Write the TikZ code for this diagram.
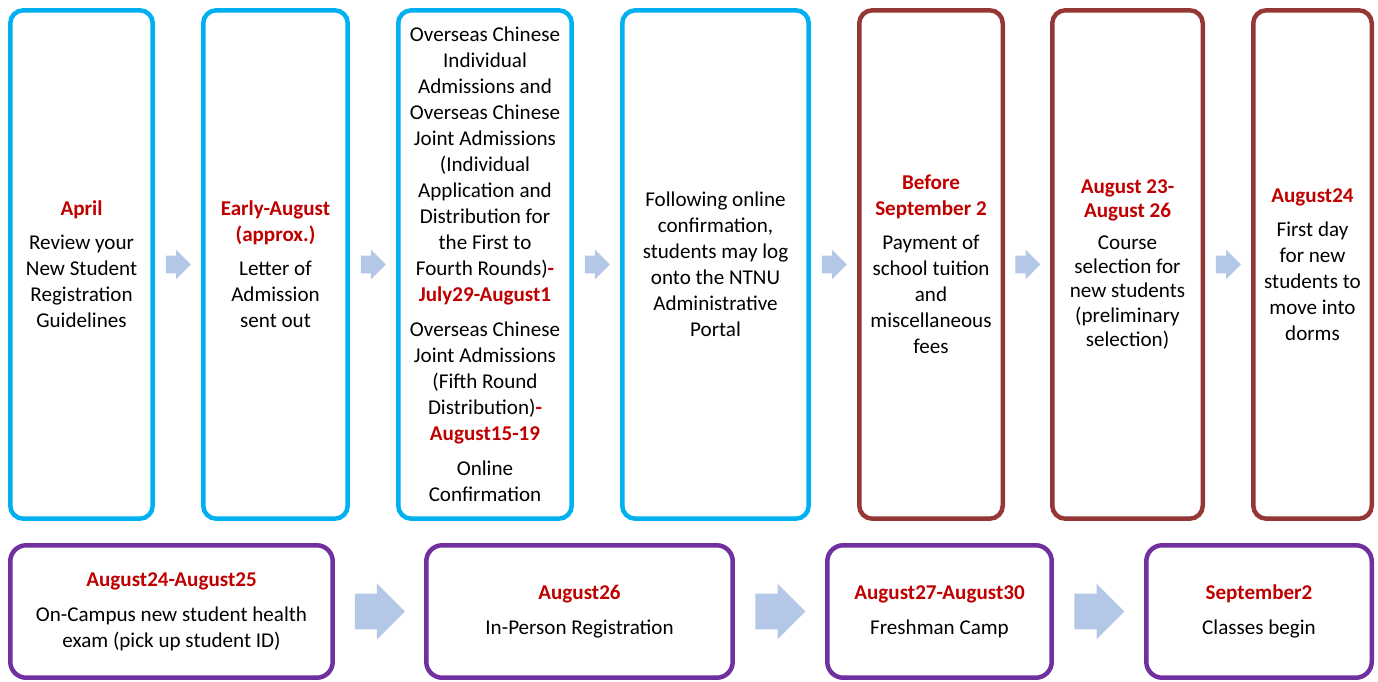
\documentclass[tikz,border=0pt]{standalone}
\usepackage{fontspec}
\setmainfont{Carlito}
\usetikzlibrary{shapes.arrows,calc}
\definecolor{skyblue}{RGB}{0,176,240}
\definecolor{brickred}{RGB}{149,55,53}
\definecolor{plum}{RGB}{112,48,160}
\definecolor{datered}{RGB}{192,0,0}
\definecolor{arrowblue}{RGB}{180,199,231}
\newcommand{\when}[1]{\textcolor{datered}{\bfseries #1}}
\begin{document}
\begin{tikzpicture}[x=0.02cm,y=-0.02cm,
	stage/.style={draw=#1, line width=0.09cm, fill=white, align=center, inner sep=0pt,
		font=\fontsize{12}{14.8}\selectfont},
	tall/.style={stage=#1, rounded corners=0.26cm, minimum height=10.17cm},
	wide/.style={stage=plum, rounded corners=0.32cm, minimum height=2.65cm},
	fwd/.style={single arrow, fill=arrowblue, draw=none, inner xsep=0pt, inner ysep=0.17cm,
		anchor=tail, minimum height=0.5cm, single arrow head extend=0.12cm},
	bigfwd/.style={fwd, inner ysep=0.35cm, minimum height=1cm, single arrow head extend=0.2cm}]
\useasboundingbox (0,0) rectangle (1378,682);

% top row
\node[tall=skyblue, minimum width=2.85cm] (apr) at (81.5,264.5)
	{\when{April}\\[4.5pt]Review your\\New Student\\Registration\\Guidelines};
\node[tall=skyblue, minimum width=2.89cm] (admit) at (275.5,264.5)
	{\when{Early-August}\\\when{(approx.)}\\[4.5pt]Letter of\\Admission\\sent out};
\node[tall=skyblue, minimum width=3.47cm] (overseas) at (485,264.5)
	{Overseas Chinese\\Individual\\Admissions and\\Overseas Chinese\\Joint Admissions\\(Individual\\Application and\\Distribution for\\the First to\\Fourth Rounds)\when{-}\\\when{July29-August1}\\[5pt]Overseas Chinese\\Joint Admissions\\(Fifth Round\\Distribution)\when{-}\\\when{August15-19}\\[5pt]Online\\Confirmation};
\node[tall=skyblue, minimum width=3.73cm] (portal) at (715.5,264.5)
	{Following online\\confirmation,\\students may log\\onto the NTNU\\Administrative\\Portal};
\node[tall=brickred, minimum width=2.87cm] (tuition) at (931,264.5)
	{\when{Before}\\\when{September 2}\\[4.5pt]Payment of\\school tuition\\and\\miscellaneous\\fees};
\node[tall=brickred, minimum width=3.01cm, font=\fontsize{12}{13.7}\selectfont] (course) at (1127.5,264.5)
	{\when{August 23-}\\\when{August 26}\\[4.5pt]Course\\selection for\\new students\\(preliminary\\selection)};
\node[tall=brickred, minimum width=2.37cm] (dorm) at (1312.5,264.5)
	{\when{August24}\\[4.5pt]First day\\for new\\students to\\move into\\dorms};

% bottom row
\node[wide, minimum width=6.45cm] (health) at (171.5,611.5)
	{\when{August24-August25}\\[5pt]On-Campus new student health\\exam (pick up student ID)};
\node[wide, minimum width=6.13cm] (register) at (579.5,611.5)
	{\when{August26}\\[5pt]In-Person Registration};
\node[wide, minimum width=4.49cm] (camp) at (939.5,611.5)
	{\when{August27-August30}\\[5pt]Freshman Camp};
\node[wide, minimum width=4.51cm] (classes) at (1259,611.5)
	{\when{September2}\\[5pt]Classes begin};

\foreach \a/\b in {apr/admit,admit/overseas,overseas/portal,portal/tuition,tuition/course,course/dorm}
	\node[fwd] at ($(\a.east)!0.5!(\b.west)+(-12.5,0)$) {};
\foreach \a/\b in {health/register,register/camp,camp/classes}
	\node[bigfwd] at ($(\a.east)!0.5!(\b.west)+(-25,0)$) {};
\end{tikzpicture}
\end{document}
